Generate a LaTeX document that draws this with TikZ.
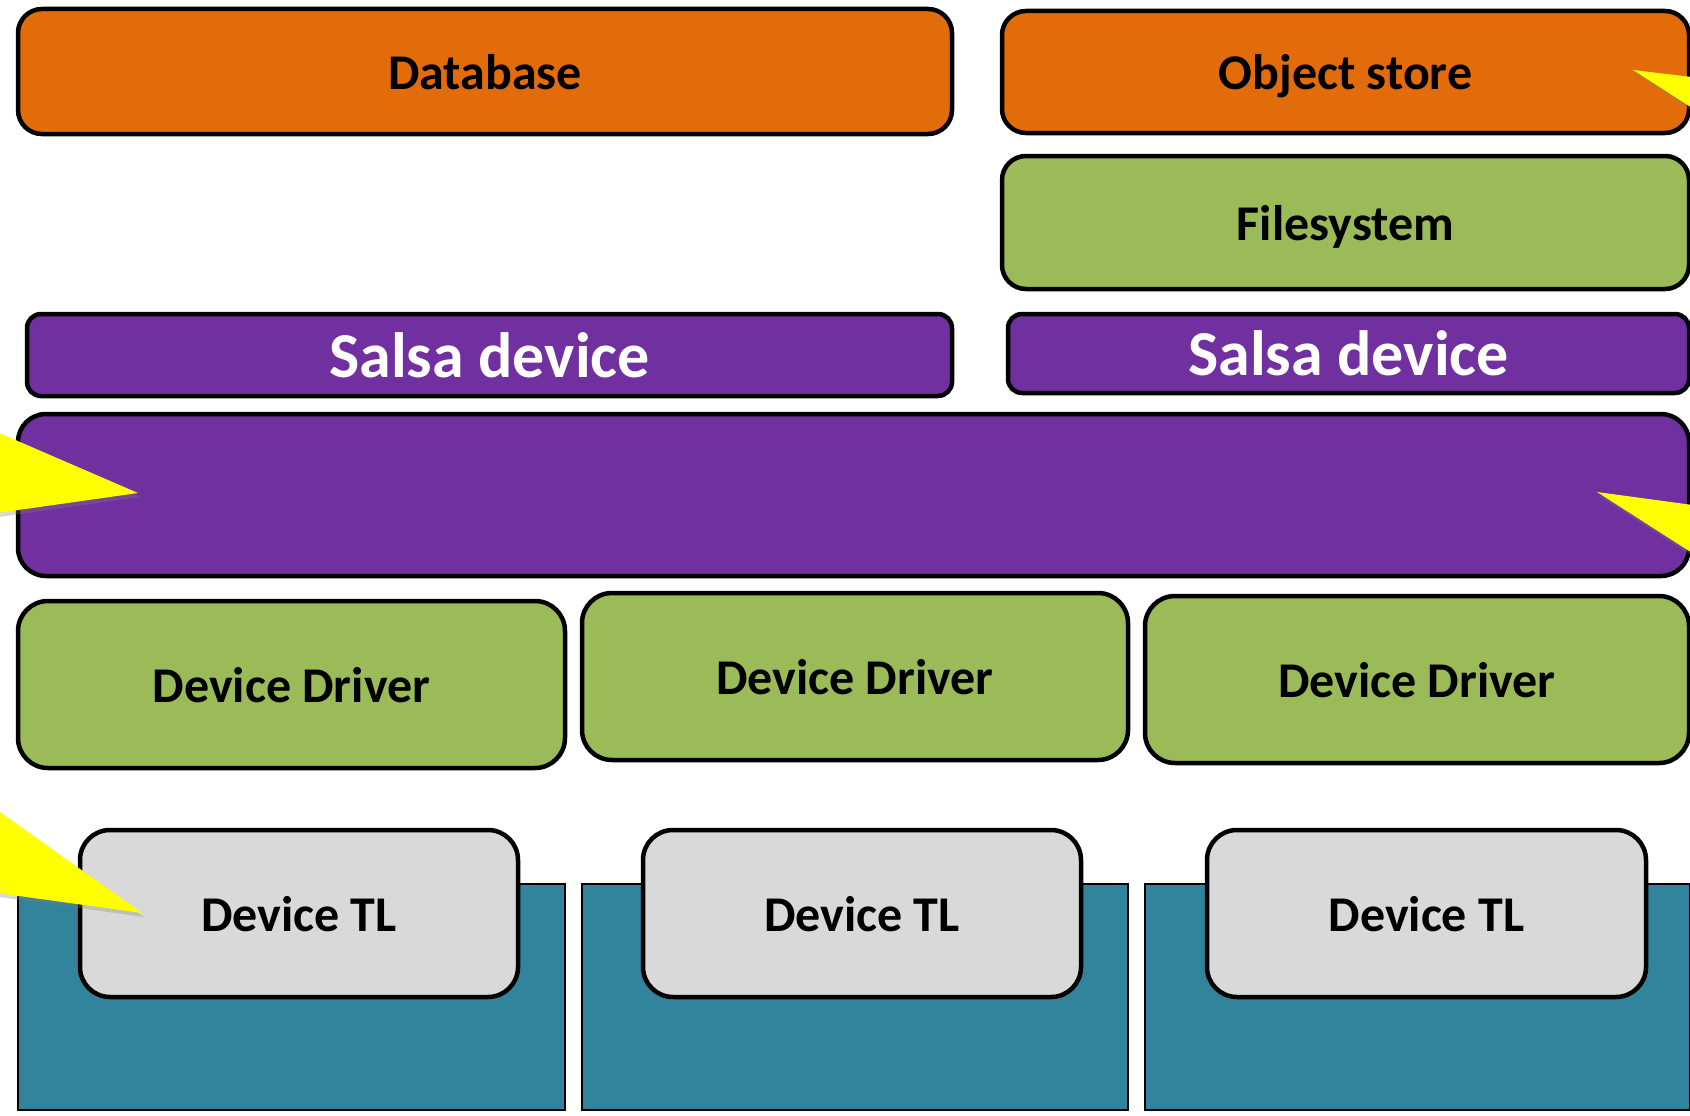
\documentclass[tikz,border=0pt]{standalone}
\usepackage{fontspec}
\setmainfont{Carlito}
\usetikzlibrary{shadows}
\definecolor{orangeA}{HTML}{E36C0A}
\definecolor{greenA}{HTML}{9BBB59}
\definecolor{purpleA}{HTML}{7030A0}
\definecolor{tealA}{HTML}{31849B}
\definecolor{greyA}{HTML}{D9D9D9}
\definecolor{yellowA}{HTML}{FFFF00}
\tikzset{
  rbox/.style={draw=black, line width=4.5pt, rounded corners=24pt, inner sep=0pt, outer sep=0pt,
    text depth=0pt, font=\fontsize{50}{60}\selectfont\bfseries, text=black},
  orangebox/.style={rbox, fill=orangeA},
  greenbox/.style={rbox, fill=greenA},
  salsabox/.style={rbox, fill=purpleA, rounded corners=14pt, text=white, font=\fontsize{64}{76}\selectfont\bfseries},
  bigbox/.style={rbox, fill=purpleA, rounded corners=28pt},
  tlbox/.style={rbox, fill=greyA, rounded corners=30pt},
  tealbox/.style={draw=black, line width=1.5pt, fill=tealA, inner sep=0pt, outer sep=0pt},
  callout/.style={fill=yellowA, drop shadow={opacity=0.3, shadow xshift=2pt, shadow yshift=-4pt}},
}
\begin{document}
\begin{tikzpicture}[x=1pt, y=-1pt]
\useasboundingbox (0,0) rectangle (1690,1116);
\fill[white] (0,0) rectangle (1690,1116);

% top row
\node[orangebox, minimum width=934pt, minimum height=125pt] (db) at (485,71.5) {Database};
\node[orangebox, minimum width=687pt, minimum height=122pt] (obj) at (1345.5,72) {Object store};
\node[greenbox, minimum width=687pt, minimum height=133pt] (fs) at (1345.5,222.5) {Filesystem};

% salsa devices
\node[salsabox, minimum width=925pt, minimum height=82pt] (salsa1) at (489.5,355) {Salsa device};
\node[salsabox, minimum width=681pt, minimum height=79pt] (salsa2) at (1348.5,353.5) {Salsa device};

% big purple bar
\node[bigbox, minimum width=1671pt, minimum height=162pt] (big) at (853.5,495) {};

% device drivers
\node[greenbox, rounded corners=30pt, minimum width=547pt, minimum height=167pt] (dd1) at (291.5,684.5) {Device Driver};
\node[greenbox, rounded corners=30pt, minimum width=546pt, minimum height=167pt] (dd2) at (855,676.5) {Device Driver};
\node[greenbox, rounded corners=30pt, minimum width=544pt, minimum height=167pt] (dd3) at (1417,679.5) {Device Driver};

% teal devices
\node[tealbox, minimum width=547pt, minimum height=226pt] (teal1) at (291.5,997) {};
\node[tealbox, minimum width=546pt, minimum height=226pt] (teal2) at (855,997) {};
\node[tealbox, minimum width=545pt, minimum height=226pt] (teal3) at (1417.5,997) {};

% device TL
\node[tlbox, minimum width=438pt, minimum height=167pt] (tl1) at (299,913.5) {Device TL};
\node[tlbox, minimum width=438pt, minimum height=167pt] (tl2) at (862,913.5) {Device TL};
\node[tlbox, minimum width=439pt, minimum height=167pt] (tl3) at (1426.5,913.5) {Device TL};

% yellow callout pointers
\fill[callout] (1633,70) -- (1700,78) -- (1700,113) -- cycle;
\fill[callout] (138,493) -- (-10,429) -- (-10,514) -- cycle;
\fill[callout] (1597,492) -- (1700,506) -- (1700,558) -- cycle;
\fill[callout] (142,913) -- (-10,805) -- (-10,892) -- cycle;
\end{tikzpicture}
\end{document}
